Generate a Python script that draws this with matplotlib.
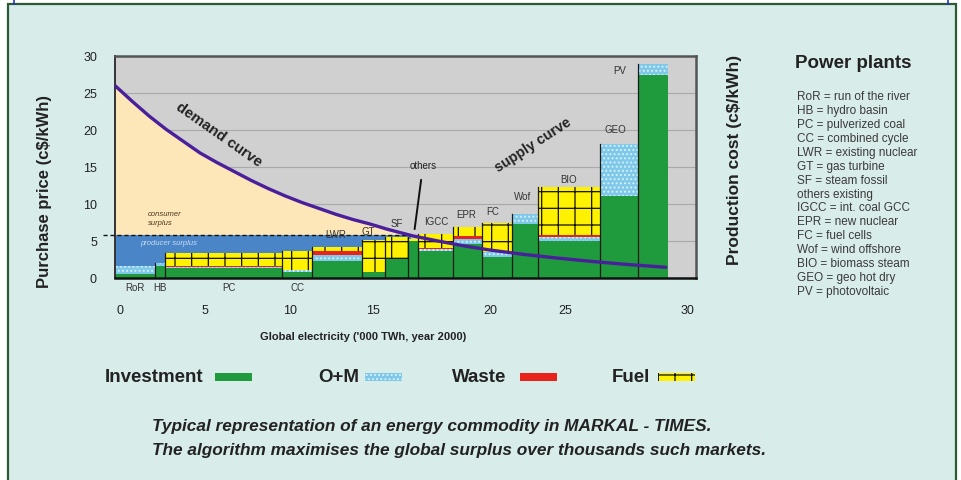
import matplotlib
matplotlib.use("Agg")
import matplotlib.pyplot as plt
import numpy as np
from matplotlib.patches import Rectangle
from matplotlib.lines import Line2D

plt.rcParams['font.family'] = ['Liberation Sans', 'DejaVu Sans']
plt.rcParams['hatch.linewidth'] = 0.9

# ---------------- data ----------------
plants = ["RoR", "HB", "PC", "CC", "LWR", "GT", "SF", "others", "IGCC",
          "EPR", "FC", "Wof", "BIO", "GEO", "PV"]
capacity = [2.35, 0.6, 6.9, 1.75, 2.95, 1.35, 1.35, 0.6, 2.05, 1.7, 1.75,
            1.55, 3.6, 2.25, 1.75]
investment = [0.5, 1.6, 1.4, 0.8, 2.3, 0.8, 2.6, 5.0, 3.65, 4.6, 2.8, 7.3,
              5.05, 11.1, 27.4]
om = [1.1, 0.4, 0.1, 0.3, 0.8, 0.0, 0.0, 0.0, 0.3, 0.7, 0.7, 1.35, 0.5,
      7.0, 1.5]
waste = [0.0, 0.0, 0.1, 0.0, 0.55, 0.0, 0.0, 0.0, 0.15, 0.4, 0.0, 0.0, 0.2,
         0.0, 0.0]
fuel = [0.0, 0.0, 1.8, 2.55, 0.55, 4.4, 3.0, 0.3, 1.85, 1.2, 3.9, 0.0, 6.5,
        0.0, 0.0]

demand_x = [0, 1, 2, 3, 4, 5, 6, 7, 8, 9, 10, 11, 12, 13, 14, 15, 16, 17.5,
            19, 20.5, 22, 24, 26, 28, 30, 32.4]
demand_y = [26.0, 23.9, 21.9, 20.1, 18.5, 16.9, 15.6, 14.4, 13.2, 12.1, 11.1,
            10.2, 9.4, 8.6, 7.9, 7.3, 6.6, 5.7, 5.0, 4.35, 3.8, 3.2, 2.7,
            2.25, 1.85, 1.45]
price = 5.75

x_tick_labels = ["0", "5", "10", "15", "20", "25", "30"]
y_ticks = [0, 5, 10, 15, 20, 25, 30]

legend_labels = ["Investment", "O+M", "Waste", "Fuel"]
glossary = ["RoR = run of the river", "HB = hydro basin",
            "PC = pulverized coal", "CC = combined cycle",
            "LWR = existing nuclear", "GT = gas turbine",
            "SF = steam fossil", "others existing",
            "IGCC = int. coal GCC", "EPR = new nuclear",
            "FC = fuel cells", "Wof = wind offshore",
            "BIO = biomass steam", "GEO = geo hot dry",
            "PV = photovoltaic"]

# ---------------- layout / style ----------------
W, H = 962, 481
def fx(px):
    return px / W
def fy(py):
    return 1 - py / H

C_INV = '#1f9a3c'
C_OM = '#7ec8e9'
C_WASTE = '#e8231b'
C_FUEL = '#fff200'
C_BG = '#d8ecea'
C_DEMAND = '#4a1f9c'
C_CONS = '#fde6b7'
C_PROD = '#4a86c7'

fig = plt.figure(figsize=(9.62, 4.81), dpi=100)
fig.patch.set_facecolor('white')
fig.patches.append(Rectangle((fx(8), -0.05), fx(956) - fx(8), fy(5) + 0.05,
                             transform=fig.transFigure, facecolor=C_BG,
                             edgecolor='#2d5a36', linewidth=1.6, zorder=-10))
for xp in (14, 948):
    fig.add_artist(Line2D([fx(xp), fx(xp)], [fy(0), fy(5)],
                          transform=fig.transFigure, color='#2233cc', lw=1.2))

ax = fig.add_axes([fx(115), fy(279), fx(696) - fx(115), fy(57) - fy(279)])
ax.set_facecolor('#d0d0d0')
ax.set_xlim(0, 581 / 17)
ax.set_ylim(0, 30)

ax.set_yticks(y_ticks)
ax.set_yticklabels([str(v) for v in y_ticks])
ax.yaxis.grid(True, color='#a9a9a9', lw=0.8, zorder=0)
ax.set_axisbelow(True)
tick_pos = [0.3, 5.3, 10.3, 15.2, 22.1, 26.5, 33.7]
ax.set_xticks(tick_pos)
ax.set_xticklabels(x_tick_labels)
ax.tick_params(axis='x', length=0, pad=19, labelsize=9, labelcolor='#222')
ax.tick_params(axis='y', length=0, pad=13, labelsize=9, labelcolor='#222')

for s in ('top', 'right'):
    ax.spines[s].set_color('#555555')
    ax.spines[s].set_linewidth(1.8)
ax.spines['bottom'].set_color('#111')
ax.spines['bottom'].set_linewidth(1.8)
ax.spines['left'].set_color('#333')
ax.spines['left'].set_linewidth(1.4)

# surpluses
dx = np.array(demand_x, dtype=float)
dy = np.array(demand_y, dtype=float)
x_int = float(np.interp(price, dy[::-1], dx[::-1]))
ax.fill_between(dx, dy, price, where=dy >= price, interpolate=True,
                color=C_CONS, lw=0, zorder=1)
ax.fill_between([0, x_int], 0, price, color=C_PROD, lw=0, zorder=1)
ax.plot([-0.7, x_int], [price, price], ls=(0, (3, 2)), color='#111', lw=1.0,
        clip_on=False, zorder=4)

# bars
cap = np.array(capacity)
left = np.concatenate([[0], np.cumsum(cap)[:-1]])
base = np.zeros(len(cap))
comps = [(investment, C_INV, None, C_INV),
         (om, C_OM, '....', '#d9f1fb'),
         (waste, C_WASTE, None, C_WASTE),
         (fuel, C_FUEL, '+', '#111111')]
for vals, col, hatch, ec in comps:
    v = np.array(vals)
    ax.bar(left, v, width=cap, bottom=base, align='edge', color=col,
           hatch=hatch, edgecolor=ec, linewidth=0, zorder=2)
    base = base + v
total = base
for i in range(1, len(cap)):
    ax.plot([left[i], left[i]], [0, max(total[i - 1], total[i])],
            color='#1a1a1a', lw=0.9, zorder=3)

ax.plot(dx, dy, color=C_DEMAND, lw=2.4, zorder=5, solid_capstyle='round',
        solid_joinstyle='round')

# bar labels
below = {"RoR": (0, -6.5), "HB": (0, -6.5), "PC": (4, -6.5), "CC": (0, -6.5)}
above = {"LWR": (-1, 9), "GT": (-4, 6), "SF": (0, 10), "IGCC": (0, 9),
         "EPR": (-1, 9), "FC": (-3, 9), "Wof": (-2, 13), "BIO": (0, 6),
         "GEO": (-2, 11), "PV": (-24, -4)}
centers = left + cap / 2
for i, name in enumerate(plants):
    if name in below:
        ax.annotate(name, (centers[i], 0), xytext=below[name],
                    textcoords='offset points', ha='center', va='center',
                    fontsize=7, color='#333', annotation_clip=False)
    elif name in above:
        ax.annotate(name, (centers[i], total[i]), xytext=above[name],
                    textcoords='offset points', ha='center', va='center',
                    fontsize=7, color='#333', zorder=6)
    else:
        ax.annotate(name, (centers[i], total[i]), xytext=(7, 53),
                    textcoords='offset points', ha='center', va='center',
                    fontsize=7, color='#222', zorder=6,
                    arrowprops=dict(arrowstyle='-', color='#111', lw=1.4,
                                    shrinkA=5, shrinkB=7))

ax.text(6.1, 19.5, "demand curve", rotation=-35, ha='center', va='center',
        fontsize=10.8, fontweight='bold', color='#222', zorder=6)
ax.text(24.6, 18.1, "supply curve", rotation=33, ha='center', va='center',
        fontsize=10.3, fontweight='bold', color='#222', zorder=6)
ax.text(1.95, 8.1, "consumer\nsurplus", ha='left', va='center', fontsize=5.5,
        fontstyle='italic', color='#4a3a20', linespacing=1.3, zorder=6)
ax.text(1.5, 4.75, "producer surplus", ha='left', va='center', fontsize=5.5,
        fontstyle='italic', color='#c8dcf0', zorder=6)

# axis titles
fig.text(fx(45), fy(192), "Purchase price (c$/kWh)", rotation=90, ha='center',
         va='center', fontsize=12, fontweight='bold', color='#222')
fig.text(fx(735), fy(160), "Production cost (c$/kWh)", rotation=90,
         ha='center', va='center', fontsize=12.5, fontweight='bold',
         color='#222')
fig.text(fx(363), fy(337), "Global electricity ('000 TWh, year 2000)",
         ha='center', va='center', fontsize=8, fontweight='bold',
         color='#222')

# glossary
fig.text(fx(853), fy(63), "Power plants", ha='center', va='center',
         fontsize=13.5, fontweight='bold', color='#222')
for i, line in enumerate(glossary):
    fig.text(fx(797), fy(97 + i * 13.93), line, ha='left', va='center',
             fontsize=8.5, color='#3a3a3a')

# legend row
leg_text_x = [105, 318, 452, 612]
leg_sw_x = [215, 365, 520, 658]
leg_styles = [(C_INV, None, C_INV), (C_OM, '....', '#d9f1fb'),
              (C_WASTE, None, C_WASTE), (C_FUEL, '+', '#111111')]
for lab, tx, sx, (col, hatch, ec) in zip(legend_labels, leg_text_x, leg_sw_x,
                                         leg_styles):
    fig.text(fx(tx), fy(378), lab, ha='left', va='center', fontsize=13.5,
             fontweight='bold', color='#222')
    fig.patches.append(Rectangle((fx(sx), fy(382)), fx(37), 8 / H,
                                 transform=fig.transFigure, facecolor=col,
                                 hatch=hatch, edgecolor=ec, linewidth=0))

# caption
fig.text(fx(152), fy(427),
         "Typical representation of an energy commodity in MARKAL - TIMES.",
         ha='left', va='center', fontsize=12.4, fontweight='bold',
         fontstyle='italic', color='#222')
fig.text(fx(152), fy(450),
         "The algorithm maximises the global surplus over thousands such markets.",
         ha='left', va='center', fontsize=12.4, fontweight='bold',
         fontstyle='italic', color='#222')

fig.savefig("out.png", dpi=100, facecolor=fig.get_facecolor())
